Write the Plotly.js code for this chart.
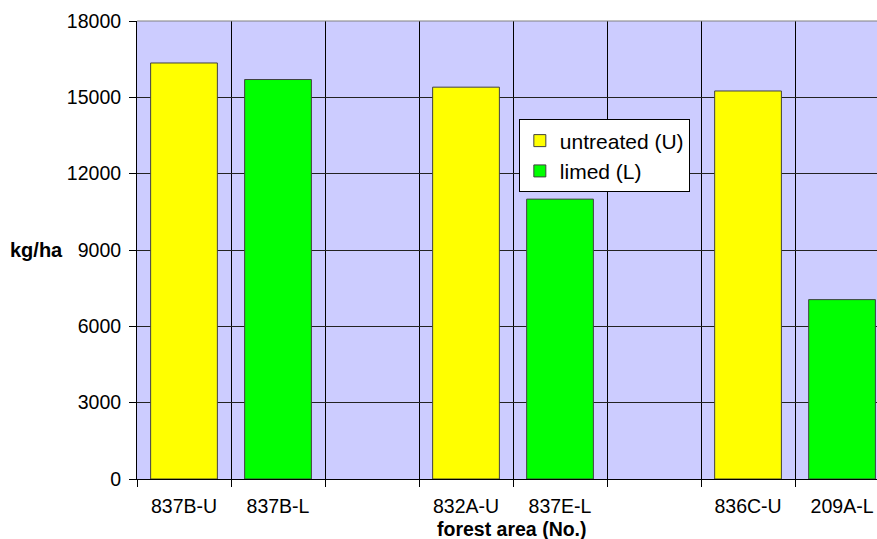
<!DOCTYPE html>
<html>
<head>
<meta charset="utf-8">
<script src="https://cdn.plot.ly/plotly-3.0.1.min.js"></script>
<style>html,body{margin:0;padding:0;background:#fff;}#chart{width:877px;height:539px;}</style>
</head>
<body>
<div id="chart"></div>
<script>
const categories = ['837B-U', '837B-L', ' ', '832A-U', '837E-L', '  ', '836C-U', '209A-L'];
const untreatedX = ['837B-U', '832A-U', '836C-U'];
const untreatedY = [16350, 15400, 15250];
const limedX = ['837B-L', '837E-L', '209A-L'];
const limedY = [15700, 11000, 7050];
const yTicks = [0, 3000, 6000, 9000, 12000, 15000, 18000];

const font = 'Arial, "Liberation Sans", sans-serif';

const traces = [
  {type: 'bar', name: 'untreated (U)', x: untreatedX, y: untreatedY, width: 0.71,
   legendgroup: 'u',
   marker: {color: '#FFFF00', line: {color: '#404040', width: 1}}},
  {type: 'bar', name: 'limed (L)', x: limedX, y: limedY, width: 0.71,
   legendgroup: 'l',
   marker: {color: '#00FF00', line: {color: '#404040', width: 1}}}
];

const layout = {
  width: 877, height: 539,
  margin: {l: 137, r: 0, t: 21, b: 60},
  paper_bgcolor: '#ffffff',
  plot_bgcolor: '#CCCCFF',
  barmode: 'overlay',
  font: {family: font, size: 19.5, color: '#000'},
  xaxis: {
    type: 'category', categoryorder: 'array', categoryarray: categories,
    range: [-0.5, 7.372],
    tickson: 'boundaries', ticks: 'outside', ticklen: 7, tickcolor: '#000',
    ticklabelstandoff: 10,
    showgrid: true, gridcolor: '#000', gridwidth: 1,
    showline: true, linecolor: '#000', linewidth: 1,
    tickfont: {family: font, size: 19.5, color: '#000'},
    fixedrange: true
  },
  yaxis: {
    range: [0, 18000], tickvals: yTicks, ticktext: yTicks.map(String),
    ticks: 'outside', ticklen: 7, tickcolor: '#000',
    ticklabelstandoff: 4,
    showgrid: true, gridcolor: '#222', gridwidth: 1,
    showline: true, linecolor: '#000', linewidth: 1,
    zeroline: false,
    tickfont: {family: font, size: 19.5, color: '#000'},
    fixedrange: true
  },
  showlegend: true,
  legend: {
    x: 0.516, y: 0.785, xanchor: 'left', yanchor: 'top',
    bgcolor: '#ffffff', bordercolor: '#000', borderwidth: 1,
    font: {family: font, size: 21, color: '#000'},
    traceorder: 'grouped', tracegroupgap: 0,
    itemwidth: 30
  },
  shapes: [
    {type: 'line', xref: 'paper', yref: 'paper', x0: 0, x1: 1, y0: 1, y1: 1,
     line: {color: '#808080', width: 1}, layer: 'above'}
  ],
  annotations: [
    {text: '<b>kg/ha</b>', xref: 'paper', yref: 'paper', x: -0.0973, y: 0.5,
     xanchor: 'right', yanchor: 'middle', showarrow: false,
     font: {family: font, size: 20, color: '#000'}},
    {text: '<b>forest area (No.)</b>', xref: 'paper', yref: 'paper', x: 0.507, y: -0.109,
     xanchor: 'center', yanchor: 'middle', showarrow: false,
     font: {family: font, size: 19.5, color: '#000'}}
  ]
};

Plotly.newPlot('chart', traces, layout, {displayModeBar: false, staticPlot: true});
</script>
</body>
</html>
